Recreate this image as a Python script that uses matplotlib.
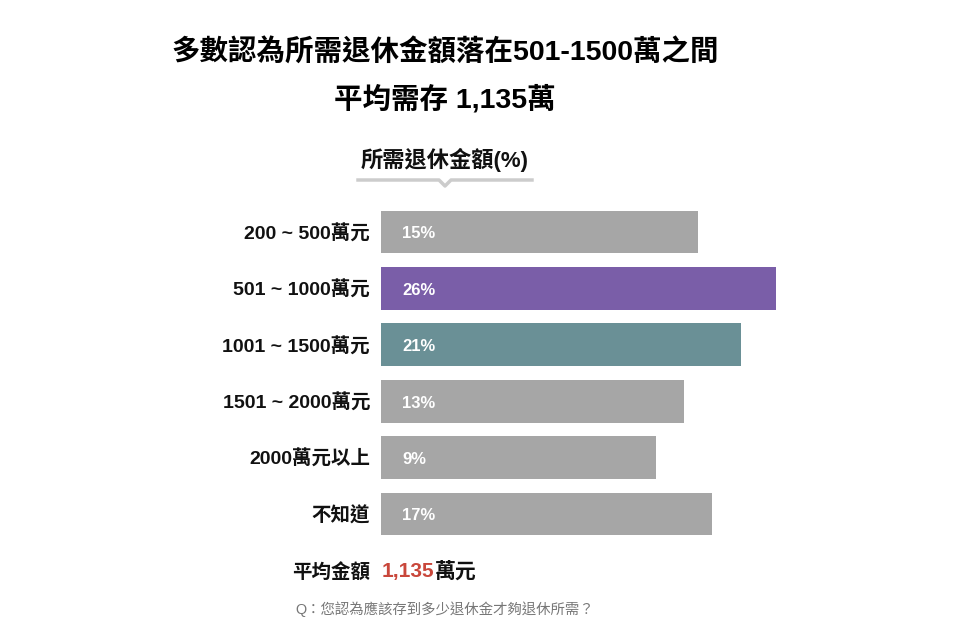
import numpy as np
import matplotlib.pyplot as plt
from matplotlib.lines import Line2D

# Latin en Liberation Sans (tipo Arial), CJK en Noto Sans CJK TC
plt.rcParams['font.family'] = ['Liberation Sans', 'Noto Sans CJK TC', 'DejaVu Sans']

# datos
categorias = ['200 ~ 500萬元', '501 ~ 1000萬元', '1001 ~ 1500萬元',
              '1501 ~ 2000萬元', '2000萬元以上', '不知道']
valores = [15, 26, 21, 13, 9, 17]
colores = ['#a6a6a6', '#7a5ea8', '#6a9096', '#a6a6a6', '#a6a6a6', '#a6a6a6']
titulo1 = '多數認為所需退休金額落在501-1500萬之間'
titulo2 = '平均需存 1,135萬'
subtitulo = '所需退休金額(%)'
promedio = '1,135'
pregunta = 'Q：您認為應該存到多少退休金才夠退休所需？'

W, H = 960, 635
fig = plt.figure(figsize=(W / 100, H / 100), dpi=100)

def fx(px):
    return px / W

def fy(py):
    return 1 - py / H

# ejes: las barras empiezan en "base" (no en cero)
base = -29.75
escala = 7.09  # px por %
ax = fig.add_axes([fx(381), fy(542.2), fx(400), (542.2 - 203.8) / H])
y = np.arange(len(valores))
ax.barh(y, np.array(valores) - base, left=base, color=colores, height=0.76)
ax.set_xlim(base, base + 400 / escala)
ax.set_ylim(len(valores) - 0.5, -0.5)
ax.axis('off')

dy = 0.035  # pequeño ajuste vertical del texto
for i, (c, v) in enumerate(zip(categorias, valores)):
    ax.text(base - 11 / escala, i + dy, c, ha='right', va='center',
            fontsize=14, fontweight='bold', color='#111111')
    ax.text(base + 21 / escala, i + dy, f'{v}%', ha='left', va='center',
            fontsize=12, fontweight='bold', color='white')

# títulos
fig.text(fx(445), fy(52), titulo1, ha='center', va='center',
         fontsize=20.5, fontweight='bold', color='black')
fig.text(fx(445), fy(99), titulo2, ha='center', va='center',
         fontsize=20.5, fontweight='bold', color='black')
fig.text(fx(445), fy(160), subtitulo, ha='center', va='center',
         fontsize=16, fontweight='bold', color='#111111')

# línea con muesca debajo del subtítulo
xs = [358, 439, 445, 451, 532]
ys = [180, 180, 186, 180, 180]
fig.add_artist(Line2D([fx(v) for v in xs], [fy(v) for v in ys],
                      color='#cccccc', lw=2.5, transform=fig.transFigure))

# promedio
fig.text(fx(370), fy(572), '平均金額', ha='right', va='center',
         fontsize=14, fontweight='bold', color='#111111')
t = fig.text(fx(382), fy(572), promedio, ha='left', va='center',
             fontsize=15, fontweight='bold', color='#c9473b')
fig.canvas.draw()
bb = t.get_window_extent()
fig.text(bb.x1 / W, fy(572), '萬元', ha='left', va='center',
         fontsize=15, fontweight='bold', color='#111111')

fig.text(fx(445), fy(609), pregunta, ha='center', va='center',
         fontsize=10.4, color='#777777')

fig.savefig('out.png', dpi=100)
